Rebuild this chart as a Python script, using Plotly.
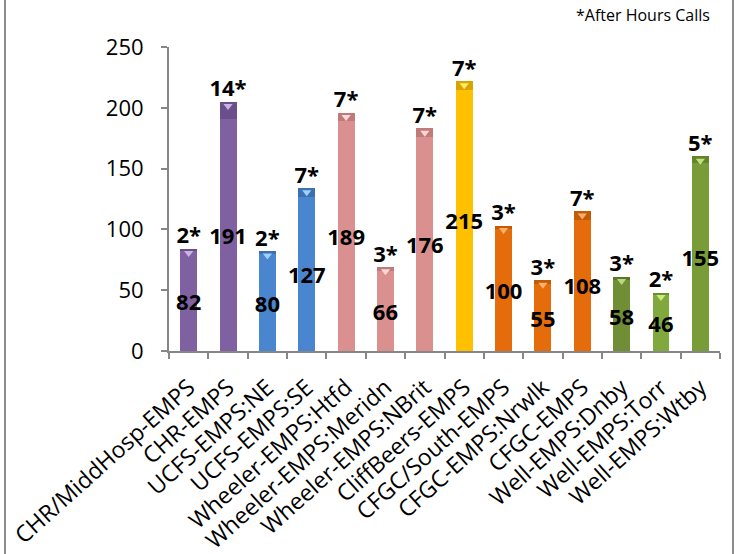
import plotly.graph_objects as go

categories = ["CHR/MiddHosp-EMPS", "CHR-EMPS", "UCFS-EMPS:NE", "UCFS-EMPS:SE",
              "Wheeler-EMPS:Htfd", "Wheeler-EMPS:Meridn", "Wheeler-EMPS:NBrit",
              "CliffBeers-EMPS", "CFGC/South-EMPS", "CFGC-EMPS:Nrwlk", "CFGC-EMPS",
              "Well-EMPS:Dnby", "Well-EMPS:Torr", "Well-EMPS:Wtby"]
calls = [82, 191, 80, 127, 189, 66, 176, 215, 100, 55, 108, 58, 46, 155]
after_hours = [2, 14, 2, 7, 7, 3, 7, 7, 3, 3, 7, 3, 2, 5]
y_ticks = [0, 50, 100, 150, 200, 250]

base_colors = ["#7f60a1", "#7f60a1", "#4a86cf", "#4a86cf", "#d9908f", "#d9908f", "#d9908f",
               "#ffc000", "#e46c0a", "#e46c0a", "#e46c0a", "#6f8e35", "#80a83c", "#789c38"]
cap_colors = ["#6a4f8a", "#6a4f8a", "#3c70b0", "#3c70b0", "#bf7a79", "#bf7a79", "#bf7a79",
              "#d9a300", "#c25a06", "#c25a06", "#c25a06", "#5c7629", "#6a8e2e", "#64832c"]
tri_colors = ["#c9b3e6", "#c9b3e6", "#9fd0ff", "#9fd0ff", "#ffd9d8", "#ffd9d8", "#ffd9d8",
              "#ffee66", "#ffb070", "#ffb070", "#ffb070", "#b9d97a", "#c6ec7e", "#bfe27a"]

totals = [c + a for c, a in zip(calls, after_hours)]
mids = [c / 2 - 3 for c in calls]
tri_y = [t - 3.5 for t in totals]
ah_labels = [f"{a}*" for a in after_hours]

FONT = "Open Sans"

fig = go.Figure()
fig.add_trace(go.Bar(x=categories, y=calls, width=0.43,
                     marker=dict(color=base_colors, line=dict(width=0)),
                     showlegend=False, hoverinfo="skip"))
fig.add_trace(go.Bar(x=categories, y=after_hours, width=0.43,
                     marker=dict(color=cap_colors, line=dict(width=0)),
                     showlegend=False, hoverinfo="skip"))
fig.add_trace(go.Scatter(x=categories, y=tri_y, mode="markers",
                         marker=dict(symbol="triangle-down", size=8, color=tri_colors,
                                     line=dict(width=0)),
                         showlegend=False, hoverinfo="skip"))
fig.add_trace(go.Scatter(x=categories, y=mids, mode="text", text=[str(c) for c in calls],
                         textposition="middle center",
                         textfont=dict(family=FONT, size=22, color="#000000", weight="bold"),
                         showlegend=False, hoverinfo="skip"))
fig.add_trace(go.Scatter(x=categories, y=totals, mode="text", text=ah_labels,
                         textposition="top center",
                         textfont=dict(family=FONT, size=22, color="#000000", weight="bold"),
                         showlegend=False, hoverinfo="skip"))

fig.update_layout(
    width=736, height=554,
    margin=dict(l=169, r=16, t=47, b=203, autoexpand=False),
    barmode="stack",
    plot_bgcolor="white", paper_bgcolor="white",
    font=dict(family=FONT, color="#000000"),
    xaxis=dict(type="category", tickangle=-42, tickfont=dict(size=23, color="#000000"),
               showline=True, linecolor="#868686", linewidth=2,
               ticks="outside", ticklen=6, tickcolor="#868686", tickwidth=2,
               tickson="boundaries", ticklabelstandoff=12, showgrid=False, zeroline=False,
               range=[-0.5, 13.5], automargin=False),
    yaxis=dict(range=[0, 250], tickvals=y_ticks, tickfont=dict(size=22, color="#000000"),
               showline=True, linecolor="#868686", linewidth=2,
               ticks="outside", ticklen=6, tickcolor="#868686", tickwidth=2,
               ticklabelstandoff=13, showgrid=False, zeroline=False, automargin=False),
    annotations=[dict(text="*After Hours Calls", xref="paper", yref="paper",
                      x=(712 - 169) / 551, y=1 + (47 - 15) / 304,
                      xanchor="right", yanchor="middle", showarrow=False,
                      font=dict(family=FONT, size=16, color="#000000"))],
    shapes=[
        dict(type="line", xref="paper", yref="paper",
             x0=(5 - 169) / 551, x1=(5 - 169) / 551, y0=-203 / 304, y1=1 + 47 / 304,
             line=dict(color="#8c8c8c", width=2)),
        dict(type="line", xref="paper", yref="paper",
             x0=(733 - 169) / 551, x1=(733 - 169) / 551, y0=-203 / 304, y1=1 + 47 / 304,
             line=dict(color="#8c8c8c", width=2)),
    ],
)

fig.write_html("out.html")
